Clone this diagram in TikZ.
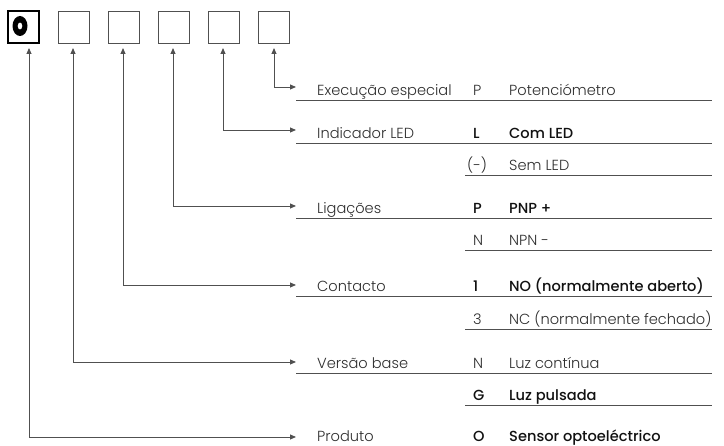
\documentclass[tikz,border=0pt]{standalone}
\usepackage{fontspec}
\setmainfont{Poppins Light}[BoldFont={Poppins Medium}]
\usetikzlibrary{arrows.meta}
\definecolor{ln}{HTML}{505050}
\definecolor{tx}{HTML}{2E2E2E}
\definecolor{tb}{HTML}{111111}
\tikzset{
  x=1pt,y=-1pt,
  box/.style={draw=ln,line width=0.9pt,minimum width=31pt,minimum height=32pt,inner sep=0pt},
  conn/.style={draw=ln,line width=0.9pt,{Triangle[length=6pt,width=5pt]}-{Triangle[length=6pt,width=5pt]}},
  rule/.style={draw=ln,line width=1pt},
  lbl/.style={anchor=base west,inner sep=0pt,text=tx,font=\fontsize{14.6}{16}\selectfont},
  lblb/.style={lbl,text=tb,font=\fontsize{14.6}{16}\selectfont\bfseries}
}
\begin{document}
\begin{tikzpicture}
\useasboundingbox (0,0) rectangle (724,446);
% boxes
\node[box,draw=black,line width=1.1pt] (b1) at (23.5,27) {};
\node[box] (b2) at (73.5,27) {};
\node[box] (b3) at (123.5,27) {};
\node[box] (b4) at (173.5,27) {};
\node[box] (b5) at (223.5,27) {};
\node[box] (b6) at (273.5,27) {};
\fill[black,even odd rule] (20,26) ellipse [x radius=7.5,y radius=10] (20,26) ellipse [x radius=2.4,y radius=3.6];
% arrow start points
\coordinate (s1) at (29,48);
\coordinate (s2) at (73,48);
\coordinate (s3) at (123,48);
\coordinate (s4) at (173,48);
\coordinate (s5) at (223,48);
\coordinate (s6) at (274,48);
% arrow end points
\coordinate (e6) at (296,87);
\coordinate (e5) at (296,130);
\coordinate (e4) at (296,206);
\coordinate (e3) at (296,285);
\coordinate (e2) at (296,362);
\coordinate (e1) at (296,437);
\foreach \i in {1,...,6}{\draw[conn] (s\i) |- (e\i);}
% rules
\coordinate (r1a) at (296,101); \coordinate (r1b) at (712,101);
\coordinate (r2a) at (296,144); \coordinate (r2b) at (712,144);
\coordinate (r3a) at (465,176); \coordinate (r3b) at (712,176);
\coordinate (r4a) at (296,219); \coordinate (r4b) at (712,219);
\coordinate (r5a) at (465,251); \coordinate (r5b) at (712,251);
\coordinate (r6a) at (296,297); \coordinate (r6b) at (712,297);
\coordinate (r7a) at (465,330); \coordinate (r7b) at (712,330);
\coordinate (r8a) at (296,374); \coordinate (r8b) at (712,374);
\coordinate (r9a) at (465,406); \coordinate (r9b) at (712,406);
\foreach \i in {1,...,9}{\draw[rule] (r\i a) -- (r\i b);}
% labels
\node[lbl] (t1) at (317,96) {Execução especial};
\node[lbl] (c1) at (473,96) {P};
\node[lbl] (v1) at (509,96) {Potenciómetro};
\node[lbl] (t2) at (317,139) {Indicador LED};
\node[lblb] (c2) at (473,139) {L};
\node[lblb] (v2) at (509,139) {Com LED};
\node[lbl] (c3) at (467,171) {(-)};
\node[lbl] (v3) at (509,171) {Sem LED};
\node[lbl] (t4) at (317,214) {Ligações};
\node[lblb] (c4) at (473,214) {P};
\node[lblb] (v4) at (509,214) {PNP +};
\node[lbl] (c5) at (473,246) {N};
\node[lbl] (v5) at (509,246) {NPN -};
\node[lbl] (t6) at (317,292) {Contacto};
\node[lblb] (c6) at (473,292) {1};
\node[lblb] (v6) at (509,292) {NO (normalmente aberto)};
\node[lbl] (c7) at (473,325) {3};
\node[lbl] (v7) at (509,325) {NC (normalmente fechado)};
\node[lbl] (t8) at (317,369) {Versão base};
\node[lbl] (c8) at (473,369) {N};
\node[lbl] (v8) at (509,369) {Luz contínua};
\node[lblb] (c9) at (473,401) {G};
\node[lblb] (v9) at (509,401) {Luz pulsada};
\node[lbl] (t10) at (317,442) {Produto};
\node[lblb] (c10) at (473,442) {O};
\node[lblb] (v10) at (509,442) {Sensor optoeléctrico};
\end{tikzpicture}
\end{document}
